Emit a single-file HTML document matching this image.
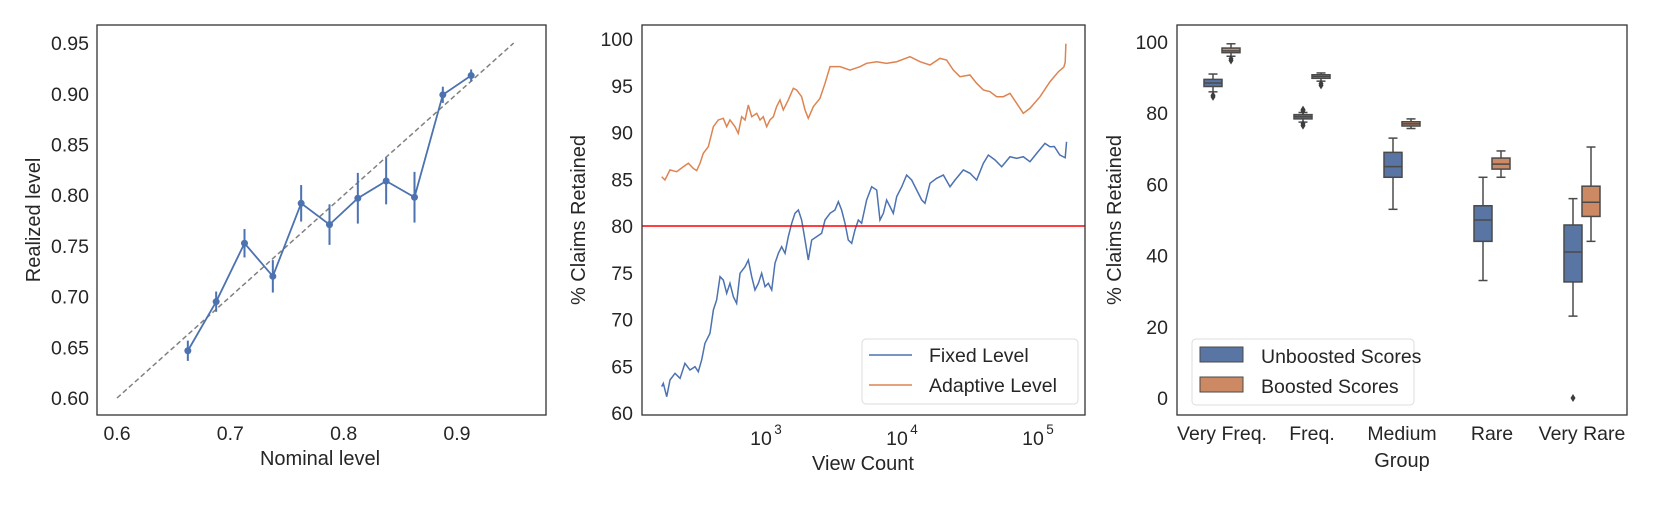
<!DOCTYPE html>
<html><head><meta charset="utf-8"><style>
body{margin:0;background:#fff;}
svg{display:block;font-family:"Liberation Sans",sans-serif;}
</style></head><body>
<svg id="fig" width="1661" height="505" viewBox="0 0 1661 505" xmlns="http://www.w3.org/2000/svg"></svg>
<script>
// ---- Panel 1 data ----
const p1Nominal=[0.6625,0.6875,0.7125,0.7375,0.7625,0.7875,0.8125,0.8375,0.8625,0.8875,0.9125];
const p1Realized=[0.6466,0.695,0.7526,0.720,0.792,0.771,0.797,0.814,0.798,0.899,0.918];
const p1Err=[0.010,0.010,0.014,0.016,0.018,0.020,0.025,0.023,0.025,0.008,0.006];
const p1XTicks=[0.6,0.7,0.8,0.9];
const p1YTicks=[0.60,0.65,0.70,0.75,0.80,0.85,0.90,0.95];
// ---- Panel 2 data (log10 view count, % retained) ----
const fixedLogX=[2.233,2.245,2.27,2.294,2.331,2.368,2.404,2.441,2.478,2.502,2.527,2.551,2.588,2.613,2.637,2.662,2.686,2.711,2.735,2.760,2.784,2.809,2.846,2.870,2.895,2.919,2.944,2.968,2.993,3.017,3.042,3.066,3.091,3.115,3.140,3.164,3.189,3.213,3.238,3.262,3.287,3.311,3.336,3.373,3.409,3.434,3.471,3.507,3.532,3.556,3.581,3.605,3.630,3.654,3.679,3.703,3.740,3.777,3.814,3.838,3.863,3.887,3.912,3.936,3.961,3.998,4.034,4.071,4.108,4.145,4.169,4.206,4.255,4.304,4.353,4.390,4.451,4.5,4.549,4.598,4.635,4.684,4.733,4.794,4.843,4.892,4.941,4.990,5.051,5.088,5.12,5.16,5.2,5.21];
const fixedVals=[62.82,63.17,61.74,63.53,64.24,63.71,65.31,64.6,64.95,64.42,65.67,67.45,68.52,71.02,72.09,74.58,74.22,72.8,73.87,72.44,71.73,74.94,75.65,76.36,74.58,73.16,73.87,74.94,73.51,73.87,73.16,76.01,77.08,77.79,77.08,78.86,80.29,81.36,81.71,80.64,78.5,76.36,78.5,78.86,79.22,80.64,81.36,81.71,82.6,81.71,80.29,78.5,78.15,79.57,80.64,80.29,82.78,84.2,83.85,80.64,81.36,82.78,82.07,81.36,83.14,84.2,85.45,84.92,83.85,82.78,82.43,84.57,85.1,85.45,84.2,84.92,85.99,85.64,84.92,86.7,87.59,87.06,86.34,87.41,87.24,87.41,86.88,87.77,88.84,88.48,88.5,87.6,87.3,89.0];
const adaptiveLogX=[2.233,2.257,2.294,2.343,2.392,2.429,2.465,2.49,2.515,2.539,2.576,2.613,2.649,2.686,2.711,2.735,2.772,2.796,2.821,2.846,2.870,2.895,2.932,2.956,2.980,3.005,3.029,3.054,3.078,3.103,3.127,3.164,3.201,3.225,3.262,3.287,3.311,3.348,3.397,3.434,3.471,3.544,3.618,3.691,3.740,3.814,3.887,3.961,4.059,4.132,4.206,4.279,4.328,4.377,4.426,4.5,4.549,4.598,4.647,4.696,4.745,4.794,4.843,4.892,4.941,5.015,5.088,5.15,5.19,5.2,5.205];
const adaptiveVals=[85.27,84.92,86.0,85.81,86.34,86.71,86.17,85.92,86.71,87.78,88.48,90.62,91.34,91.52,90.62,91.34,90.62,89.91,91.69,91.34,92.94,91.69,92.05,91.34,91.69,90.62,91.34,91.69,92.76,93.48,92.41,93.48,94.73,94.55,93.83,92.41,91.52,92.76,93.66,95.26,97.04,97.04,96.68,97.04,97.40,97.57,97.40,97.57,98.11,97.57,97.22,97.93,97.75,96.68,95.97,96.15,95.26,94.55,94.37,93.83,93.83,94.19,93.12,92.05,92.59,93.83,95.43,96.5,97.0,97.5,99.5];
const p2Threshold=80;
const p2YTicks=[60,65,70,75,80,85,90,95,100];
const p2XTickExp=[3,4,5];
// ---- Panel 3 data ----
const p3Groups=["Very Freq.","Freq.","Medium","Rare","Very Rare"];
const unbLow=[86,77.5,53,33,23], unbQ1=[87.5,78.4,62,44,32.6], unbMed=[88.5,79,65,50,41], unbQ3=[89.5,79.6,69,54,48.6], unbHigh=[91,80.2,73,62,56];
const unbOut=[[85,84.6],[81,80.7,77,76.5],[],[],[0]];
const booLow=[96,89,75.7,62,44], booQ1=[97,89.8,76.4,64.3,51], booMed=[97.5,90.3,77,65.7,55], booQ3=[98.3,90.8,77.6,67.4,59.5], booHigh=[99.5,91.3,78.4,69.4,70.5];
const booOut=[[95.3,94.8],[88.3,87.8],[],[],[]];
const p3YTicks=[0,20,40,60,80,100];

const NS="http://www.w3.org/2000/svg";
const svg=document.getElementById('fig');
function mk(tag,attrs,parent,text){const e=document.createElementNS(NS,tag);for(const k in attrs)e.setAttribute(k,attrs[k]);if(text!==undefined)e.textContent=text;(parent||svg).appendChild(e);return e;}

// ===== Panel 1 =====
const p1={l:97,r:546,t:25,b:415};
const x1=v=>117+(v-0.6)*1133.3, y1=v=>398-(v-0.6)*1014;
let g=mk('g',{});


let e=mk('line',{x1:x1(0.6),y1:y1(0.6),x2:x1(0.95),y2:y1(0.95),stroke:'#808080','stroke-width':1.5,'stroke-dasharray':'5,3'},g);


let pts=p1Nominal.map((v,i)=>x1(v)+','+y1(p1Realized[i])).join(' ');
e=mk('polyline',{points:pts,fill:'none',stroke:'#4c72b0','stroke-width':1.8},g);


p1Nominal.forEach((v,i)=>{
  let b=mk('line',{x1:x1(v),x2:x1(v),y1:y1(p1Realized[i]-p1Err[i]),y2:y1(p1Realized[i]+p1Err[i]),stroke:'#4c72b0','stroke-width':2},g);
  
  
  let c=mk('circle',{cx:x1(v),cy:y1(p1Realized[i]),r:3.5,fill:'#4c72b0'},g);
  
  
});
e=mk('rect',{x:p1.l,y:p1.t,width:p1.r-p1.l,height:p1.b-p1.t,fill:'none',stroke:'#333','stroke-width':1.3},g);


p1XTicks.forEach(v=>{let t=mk('text',{x:x1(v),y:440,'font-size':19.5,'text-anchor':'middle',fill:'#262626'},g,v.toFixed(1));

});
p1YTicks.forEach(v=>{let t=mk('text',{x:89,y:y1(v)+7,'font-size':19.5,'text-anchor':'end',fill:'#262626'},g,v.toFixed(2));

});
e=mk('text',{x:320,y:465,'font-size':20,'text-anchor':'middle',fill:'#262626'},g,'Nominal level');


e=mk('text',{x:0,y:0,'font-size':20,'text-anchor':'middle',fill:'#262626',transform:'translate(40,220) rotate(-90)'},g,'Realized level');



// ===== Panel 2 =====
const p2={l:642,r:1085,t:25,b:415};
const x2=lv=>766+(lv-3)*136, y2=v=>413-(v-60)*9.35;
g=mk('g',{});


e=mk('polyline',{points:adaptiveLogX.map((v,i)=>x2(v)+','+y2(adaptiveVals[i])).join(' '),fill:'none',stroke:'#dd8452','stroke-width':1.5},g);


e=mk('polyline',{points:fixedLogX.map((v,i)=>x2(v)+','+y2(fixedVals[i])).join(' '),fill:'none',stroke:'#4c72b0','stroke-width':1.5},g);


e=mk('line',{x1:p2.l,x2:p2.r,y1:y2(p2Threshold),y2:y2(p2Threshold),stroke:'#ff0000','stroke-width':1.5},g);


e=mk('rect',{x:p2.l,y:p2.t,width:p2.r-p2.l,height:p2.b-p2.t,fill:'none',stroke:'#333','stroke-width':1.3},g);


p2YTicks.forEach(v=>{let t=mk('text',{x:633,y:y2(v)+7,'font-size':19.5,'text-anchor':'end',fill:'#262626'},g,String(v));

});
p2XTickExp.forEach(p=>{let t=mk('text',{x:x2(p)-5,y:445,'font-size':19.5,'text-anchor':'middle',fill:'#262626'},g,'10');


let s=mk('text',{x:x2(p)+12,y:434,'font-size':13.5,'text-anchor':'middle',fill:'#262626'},g,String(p));

});
e=mk('text',{x:863,y:470,'font-size':20,'text-anchor':'middle',fill:'#262626'},g,'View Count');


e=mk('text',{x:0,y:0,'font-size':20,'text-anchor':'middle',fill:'#262626',transform:'translate(585,220) rotate(-90)'},g,'% Claims Retained');


let lg=mk('g',{},g);


mk('rect',{x:862,y:339,width:216,height:65,rx:4,fill:'#fff',stroke:'#dcdcdc','stroke-width':1},lg);
e=mk('line',{x1:869,x2:912,y1:355,y2:355,stroke:'#4c72b0','stroke-width':1.6},lg);


e=mk('text',{x:929,y:362,'font-size':19.5,fill:'#262626'},lg,'Fixed Level');


e=mk('line',{x1:869,x2:912,y1:385,y2:385,stroke:'#dd8452','stroke-width':1.6},lg);


e=mk('text',{x:929,y:392,'font-size':19.5,fill:'#262626'},lg,'Adaptive Level');



// ===== Panel 3 =====
const p3={l:1177,r:1627,t:25,b:415};
const catW=(p3.r-p3.l)/p3Groups.length;
const cx3=i=>p3.l+catW*(i+0.5), y3=v=>398-v*3.56;
g=mk('g',{});


function box(i,off,low,q1,med,q3,high,outs,fill,name){
  const c=cx3(i)+off, hw=9, col='#4a4a4a';
  const bg=mk('g',{},g);
  
  
  mk('line',{x1:c,x2:c,y1:y3(high),y2:y3(q3),stroke:col,'stroke-width':1.5},bg);
  mk('line',{x1:c,x2:c,y1:y3(q1),y2:y3(low),stroke:col,'stroke-width':1.5},bg);
  mk('line',{x1:c-4.5,x2:c+4.5,y1:y3(high),y2:y3(high),stroke:col,'stroke-width':1.5},bg);
  mk('line',{x1:c-4.5,x2:c+4.5,y1:y3(low),y2:y3(low),stroke:col,'stroke-width':1.5},bg);
  mk('rect',{x:c-hw,y:y3(q3),width:2*hw,height:Math.max(y3(q1)-y3(q3),1),fill:fill,stroke:col,'stroke-width':1.5},bg);
  mk('line',{x1:c-hw,x2:c+hw,y1:y3(med),y2:y3(med),stroke:col,'stroke-width':1.5},bg);
  outs.forEach(o=>{mk('path',{d:`M${c},${y3(o)-4}L${c+2.5},${y3(o)}L${c},${y3(o)+4}L${c-2.5},${y3(o)}Z`,fill:'#3d3d3d'},bg);});
}
p3Groups.forEach((nm,i)=>{
  box(i,-9,unbLow[i],unbQ1[i],unbMed[i],unbQ3[i],unbHigh[i],unbOut[i],'#5875a4','unboosted-box');
  box(i,9,booLow[i],booQ1[i],booMed[i],booQ3[i],booHigh[i],booOut[i],'#cc8963','boosted-box');
  let t=mk('text',{x:cx3(i),y:440,'font-size':19.5,'text-anchor':'middle',fill:'#262626'},g,nm);
  
  
});
e=mk('rect',{x:p3.l,y:p3.t,width:p3.r-p3.l,height:p3.b-p3.t,fill:'none',stroke:'#333','stroke-width':1.3},g);


p3YTicks.forEach(v=>{let t=mk('text',{x:1168,y:y3(v)+7,'font-size':19.5,'text-anchor':'end',fill:'#262626'},g,String(v));

});
e=mk('text',{x:cx3(2),y:467,'font-size':20,'text-anchor':'middle',fill:'#262626'},g,'Group');


e=mk('text',{x:0,y:0,'font-size':20,'text-anchor':'middle',fill:'#262626',transform:'translate(1121,220) rotate(-90)'},g,'% Claims Retained');


lg=mk('g',{},g);


mk('rect',{x:1192,y:339,width:222,height:66,rx:4,fill:'#fff',stroke:'#dcdcdc','stroke-width':1},lg);
e=mk('rect',{x:1200,y:347,width:43,height:15,fill:'#5875a4',stroke:'#4a4a4a','stroke-width':1},lg);


e=mk('text',{x:1261,y:363,'font-size':19.5,fill:'#262626'},lg,'Unboosted Scores');


e=mk('rect',{x:1200,y:377,width:43,height:15,fill:'#cc8963',stroke:'#4a4a4a','stroke-width':1},lg);


e=mk('text',{x:1261,y:393,'font-size':19.5,fill:'#262626'},lg,'Boosted Scores');


</script>
</body></html>
